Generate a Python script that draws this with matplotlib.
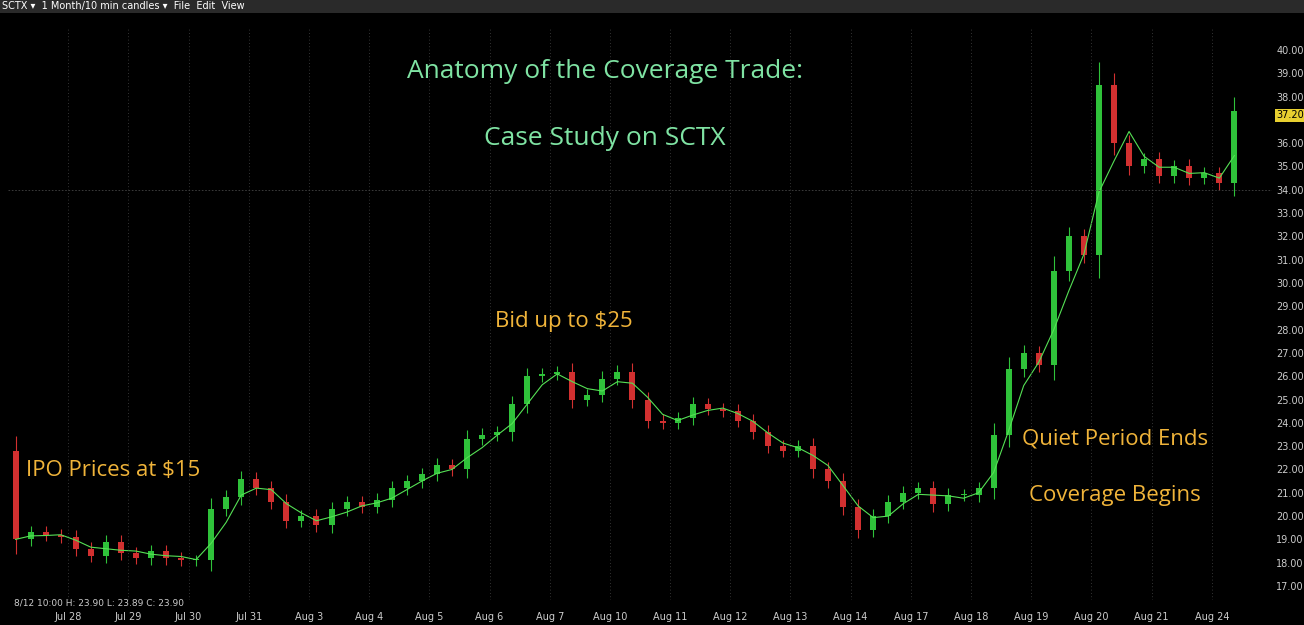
import numpy as np
import pandas as pd
import matplotlib.pyplot as plt
from matplotlib.patches import Rectangle

# 4 candles per trading day, last day partial
closes = [19.0, 19.3, 19.2, 19.1,
          18.6, 18.3, 18.9, 18.4,
          18.2, 18.5, 18.2, 18.1,
          18.1, 20.3, 20.8, 21.6,
          21.2, 20.6, 19.8, 20.0,
          19.6, 20.3, 20.6, 20.4,
          20.7, 21.2, 21.5, 21.8,
          22.2, 22.0, 23.3, 23.5,
          23.6, 24.8, 26.0, 26.1,
          26.2, 25.0, 25.2, 25.9,
          26.2, 25.0, 24.1, 24.0,
          24.2, 24.8, 24.6, 24.5,
          24.1, 23.6, 23.0, 22.8,
          23.0, 22.0, 21.5, 20.4,
          19.4, 20.0, 20.6, 21.0,
          21.2, 20.5, 20.9, 20.9,
          21.2, 23.5, 26.3, 27.0,
          26.5, 30.5, 32.0, 31.2,
          38.5, 36.0, 35.0, 35.3,
          34.6, 35.0, 34.5, 34.7,
          34.3, 37.4]
first_open = 22.8
day_labels = ["Jul 28", "Jul 29", "Jul 30", "Jul 31", "Aug 3", "Aug 4", "Aug 5",
              "Aug 6", "Aug 7", "Aug 10", "Aug 11", "Aug 12", "Aug 13", "Aug 14",
              "Aug 17", "Aug 18", "Aug 19", "Aug 20", "Aug 21", "Aug 24"]
price_ticks = np.arange(17, 41, 1)
last_price = 37.20

closes = np.array(closes)
opens = np.concatenate([[first_open], closes[:-1]])
body = np.abs(closes - opens)
highs = np.maximum(opens, closes) + 0.25 + 0.1 * body
lows = np.minimum(opens, closes) - 0.25 - 0.1 * body
xs = np.arange(len(closes)) * 0.25 + 0.125
ma = pd.Series(closes).rolling(3, min_periods=1).mean()

W, H = 1304, 625
fig = plt.figure(figsize=(W / 100, H / 100), dpi=100, facecolor="black")
ax = fig.add_axes([8 / W, 25 / H, 1264 / W, 572 / H], facecolor="black")

up, down = "#2fc23a", "#d23030"
for x, o, c, h, l in zip(xs, opens, closes, highs, lows):
    col = up if c >= o else down
    ax.vlines(x, l, h, color=col, lw=0.8)
    ax.add_patch(Rectangle((x - 0.05, min(o, c)), 0.1, max(abs(c - o), 0.05),
                           color=col, lw=0))
ax.plot(xs, ma, color="#55e055", lw=0.8)

ax.set_xlim(0, 21.0)
ax.set_ylim(16.4, 40.94)
ax.yaxis.tick_right()
ax.set_yticks(price_ticks)
# the 37.00 label sits under the last-price box
ax.set_yticklabels(["" if abs(v - last_price) < 0.5 else f"{v:.2f}" for v in price_ticks],
                   color="#cccccc", fontsize=7)
ax.set_xticks(np.arange(1, 21))
ax.set_xticklabels(day_labels, color="#cccccc", fontsize=7)
ax.tick_params(axis="y", length=0, pad=3)
ax.tick_params(axis="x", length=0, pad=9)
for s in ax.spines.values():
    s.set_visible(False)
for d in range(1, 21):
    ax.axvline(d, color="#444444", lw=0.6, ls=(0, (1, 3)))
ax.axhline(34.0, color="#444444", lw=0.6, ls=(0, (2, 2)))

ax.annotate(f"{last_price:.2f}", xy=(1.0, last_price), xycoords=("axes fraction", "data"),
            xytext=(3, 0), textcoords="offset points", va="center", fontsize=7,
            color="black", zorder=10,
            bbox=dict(boxstyle="square,pad=0.15", fc="#e8d030", ec="none"))

green_txt, orange_txt = "#7fe3a3", "#f0b43a"
fam = "Open Sans"
fig.text(605 / W, 1 - 72 / H, "Anatomy of the Coverage Trade:", color=green_txt,
         fontsize=19, ha="center", va="center", family=fam)
fig.text(605 / W, 1 - 139 / H, "Case Study on SCTX", color=green_txt,
         fontsize=19, ha="center", va="center", family=fam)
fig.text(564 / W, 1 - 322 / H, "Bid up to $25", color=orange_txt, fontsize=16,
         ha="center", va="center", family=fam)
fig.text(113 / W, 1 - 470 / H, "IPO Prices at $15", color=orange_txt, fontsize=16,
         ha="center", va="center", family=fam)
fig.text(1115 / W, 1 - 439 / H, "Quiet Period Ends", color=orange_txt, fontsize=16,
         ha="center", va="center", family=fam)
fig.text(1115 / W, 1 - 495 / H, "Coverage Begins", color=orange_txt, fontsize=16,
         ha="center", va="center", family=fam)

# toolbar strip
bar = fig.add_axes([0, 1 - 13 / H, 1, 13 / H], facecolor="#2a2a2a")
bar.set_xticks([]); bar.set_yticks([])
for s in bar.spines.values():
    s.set_visible(False)
bar.text(2 / W, 0.5, "SCTX \u25be  1 Month/10 min candles \u25be  File  Edit  View",
         color="white", fontsize=7, va="center", transform=bar.transAxes)
fig.text(14 / W, 1 - 603 / H, "8/12 10:00 H: 23.90 L: 23.89 C: 23.90",
         color="#cccccc", fontsize=6.5, va="center")

fig.savefig("out.png", dpi=100, facecolor="black")
